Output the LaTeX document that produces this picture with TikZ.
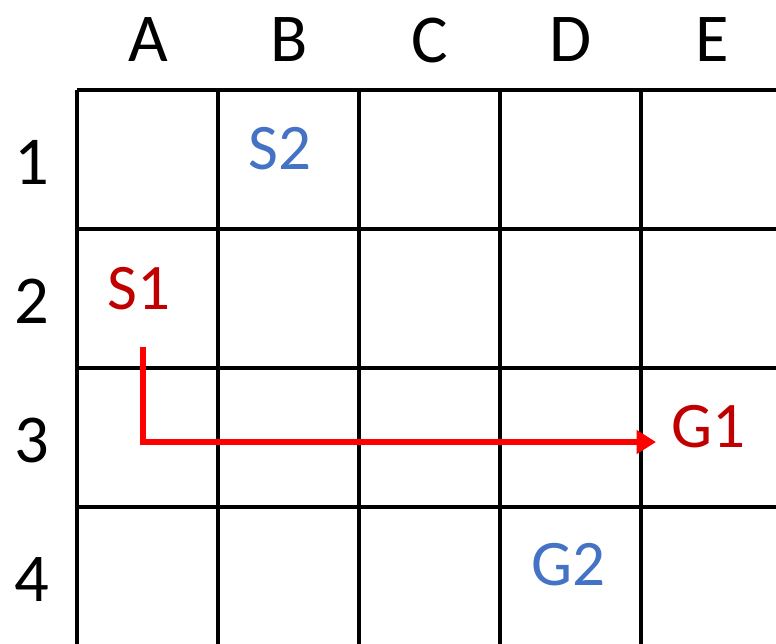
\documentclass[tikz,border=0pt]{standalone}
\usepackage{fontspec}
\setmainfont{Carlito}
\usetikzlibrary{arrows.meta}

\definecolor{pathred}{RGB}{255,0,0}
\definecolor{startred}{RGB}{192,0,0}
\definecolor{agentblue}{RGB}{68,114,196}

\tikzset{
  gridline/.style={line width=2.1pt, black},
  headlabel/.style={font=\fontsize{39}{42}\selectfont},
  redlabel/.style={font=\fontsize{37}{40}\selectfont, text=startred},
  bluelabel/.style={font=\fontsize{37}{40}\selectfont, text=agentblue},
  route/.style={line width=3.4pt, pathred, -{Triangle[length=11pt,width=13pt]}}
}

\begin{document}
\begin{tikzpicture}[x=0.02cm,y=-0.02cm]
  \useasboundingbox (0,0) rectangle (776,643);
  % grid
  \foreach \x in {77,218,359,500,641}
    \draw[gridline] (\x,90) -- (\x,650);
  \foreach \y in {90,229,368,507}
    \draw[gridline] (77,\y) -- (780,\y);
  % column and row heads
  \node[headlabel] (A) at (148,40) {A};
  \node[headlabel] (B) at (289,40) {B};
  \node[headlabel] (C) at (430,40) {C};
  \node[headlabel] (D) at (571,40) {D};
  \node[headlabel] (E) at (712,40) {E};
  \node[headlabel] (r1) at (32,162) {1};
  \node[headlabel] (r2) at (32,301) {2};
  \node[headlabel] (r3) at (32,440) {3};
  \node[headlabel] (r4) at (32,579) {4};
  % starts and goals
  \node[redlabel] (S1) at (139,289) {S1};
  \node[bluelabel] (S2) at (280,149) {S2};
  \node[redlabel] (G1) at (708,427) {G1};
  \node[bluelabel] (G2) at (568,565) {G2};
  % route of agent 1
  \coordinate (p0) at (143,347);
  \coordinate (p1) at (143,442);
  \coordinate (p2) at (656,442);
  \draw[route] (p0) -- (p1) -- (p2);
\end{tikzpicture}
\end{document}
